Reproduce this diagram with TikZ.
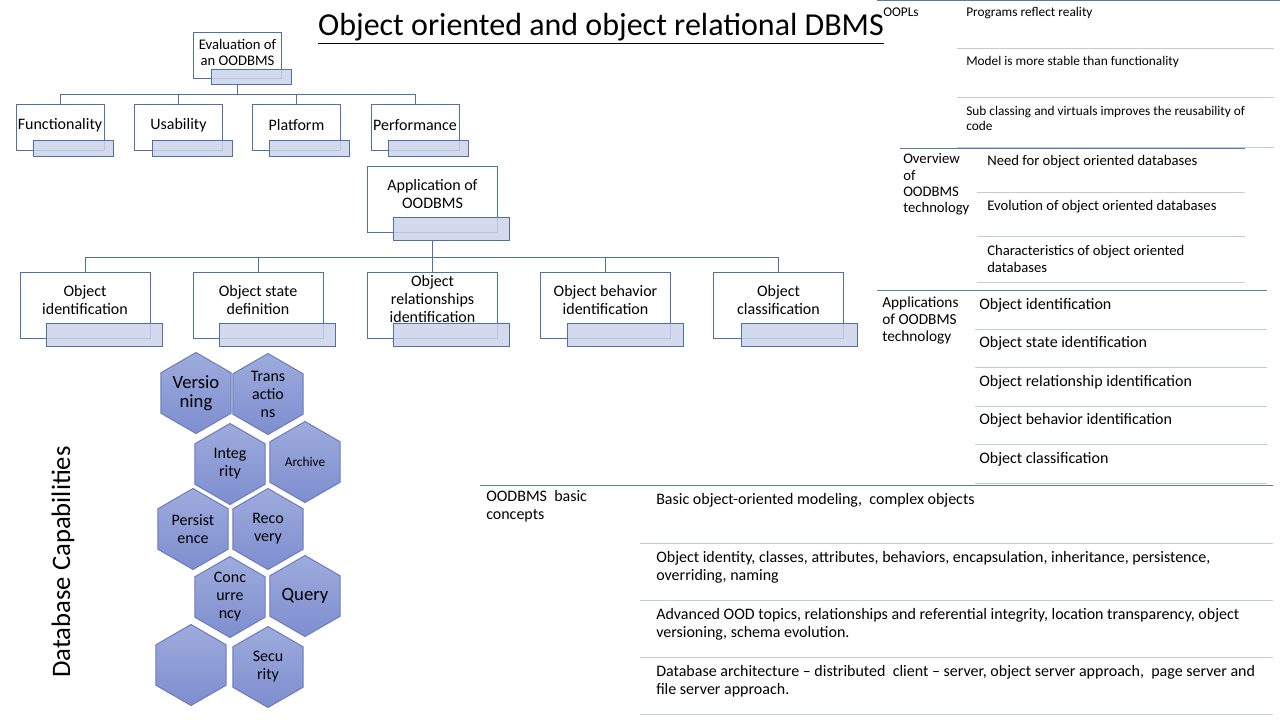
\documentclass[tikz,border=0pt]{standalone}
\usepackage{fontspec}
\setmainfont{Carlito}
\usepackage{tikz}
\usetikzlibrary{shapes.geometric}
\usetikzlibrary{calc}

\definecolor{boxblue}{HTML}{4F6FA9}
\definecolor{barfill}{HTML}{CDD4EA}
\definecolor{tabdark}{HTML}{5B7BA7}
\definecolor{tablight}{HTML}{C3CCDB}
\definecolor{hextop}{HTML}{9EABDD}
\definecolor{hexbot}{HTML}{7E8ECF}
\definecolor{hexedge}{HTML}{6C7CBC}

\begin{document}
\begin{tikzpicture}[x=0.75pt,y=-0.75pt]
    \tikzstyle{every node}=[font=\fontsize{12}{13.5}\selectfont]
    \tikzstyle{outer}=[draw=boxblue, fill=white, line width=0.75pt, minimum width=66pt, minimum height=34.5pt, inner sep=0pt]
    \tikzstyle{bar}=[draw=boxblue, fill=barfill, fill opacity=0.85, line width=0.75pt, minimum width=60pt, minimum height=11.5pt, inner sep=0pt]
    \tikzstyle{bigouter}=[outer, minimum width=97.5pt, minimum height=49.5pt]
    \tikzstyle{bigbar}=[bar, minimum width=87pt, minimum height=17.25pt]
    \tikzstyle{boxtxt}=[align=center, inner sep=0pt]
    \tikzstyle{conn}=[draw=boxblue, line width=0.75pt]
    \tikzstyle{hexa}=[regular polygon, regular polygon sides=6, shape border rotate=30, minimum size=60.75pt, inner sep=0pt, draw=hexedge, top color=hextop, bottom color=hexbot, line width=0.75pt]
    \tikzstyle{hextxt}=[align=center, inner sep=0pt]
    \tikzstyle{rowdark}=[draw=tabdark, line width=0.75pt]
    \tikzstyle{rowlight}=[draw=tablight, line width=0.75pt]
    \tikzstyle{tabtxt}=[anchor=west, align=left, inner sep=0pt]

    \fill[white] (0,0) rectangle (1280,720);
    \useasboundingbox (0,0) rectangle (1280,720);

    % title
    \node[anchor=base, font=\fontsize{24}{28}\selectfont] (title) at (601,36) {\underline{Object oriented and object relational DBMS}};

    % evaluation tree
    \node[outer] (eval) at (237.5,56) {};
    \node[bar] (evalbar) at (251,77) {};
    \node[boxtxt, font=\fontsize{11}{11.5}\selectfont] (evaltxt) at (237.5,52.5) {Evaluation of\\an OODBMS};

    \node[outer] (func) at (60,128) {};
    \node[bar] (funcbar) at (73,148.5) {};
    \node[boxtxt] (functxt) at (60,125) {Functionality};
    \node[outer] (usab) at (178.5,128) {};
    \node[bar] (usabbar) at (192,148.5) {};
    \node[boxtxt] (usabtxt) at (178.5,125) {Usability};
    \node[outer] (plat) at (296.5,128) {};
    \node[bar] (platbar) at (309.5,148.5) {};
    \node[boxtxt] (plattxt) at (296.5,125) {Platform};
    \node[outer] (perf) at (415,128) {};
    \node[bar] (perfbar) at (428,148.5) {};
    \node[boxtxt] (perftxt) at (415,125) {Performance};

    \coordinate (evalbus) at (237.5,95);
    \draw[conn] (eval.south |- evalbar.south) -- (evalbus);
    \draw[conn] (func.north) |- (evalbus);
    \draw[conn] (usab.north) |- (evalbus);
    \draw[conn] (plat.north) |- (evalbus);
    \draw[conn] (perf.north) |- (evalbus);

    % application tree
    \node[bigouter] (app) at (432.5,200) {};
    \node[bigbar] (appbar) at (451,229) {};
    \node[boxtxt] (apptxt) at (432.5,194) {Application of\\OODBMS};

    \node[bigouter] (oid) at (85,305) {};
    \node[bigbar] (oidbar) at (104,334.5) {};
    \node[boxtxt] (oidtxt) at (85,300) {Object\\identification};
    \node[bigouter] (ostate) at (258,305) {};
    \node[bigbar] (ostatebar) at (277,334.5) {};
    \node[boxtxt] (ostatetxt) at (258,300) {Object state\\definition};
    \node[bigouter] (orel) at (432.5,305) {};
    \node[bigbar] (orelbar) at (451,334.5) {};
    \node[boxtxt] (oreltxt) at (432.5,299) {Object\\relationships\\identification};
    \node[bigouter] (obeh) at (605.5,305) {};
    \node[bigbar] (obehbar) at (625,334.5) {};
    \node[boxtxt] (obehtxt) at (605.5,300) {Object behavior\\identification};
    \node[bigouter] (oclass) at (778.5,305) {};
    \node[bigbar] (oclassbar) at (799,334.5) {};
    \node[boxtxt] (oclasstxt) at (778.5,300) {Object\\classification};

    \coordinate (appbus) at (432.5,257);
    \draw[conn] (app.south |- appbar.south) -- (appbus);
    \draw[conn] (oid.north) |- (appbus);
    \draw[conn] (ostate.north) |- (appbus);
    \draw[conn] (orel.north) -- (appbus);
    \draw[conn] (obeh.north) |- (appbus);
    \draw[conn] (oclass.north) |- (appbus);

    % capabilities
    \node[rotate=90, font=\fontsize{20}{24}\selectfont] (captitle) at (63,562) {Database Capabilities};

    \node[hexa] (vers) at (196,393) {};
    \node[hextxt, font=\fontsize{14}{14}\selectfont] (verstxt) at (vers) {Versio\\ning};
    \node[hexa] (trans) at (268,394) {};
    \node[hextxt] (transtxt) at (trans) {Trans\\actio\\ns};
    \node[hexa] (integ) at (230,464) {};
    \node[hextxt] (integtxt) at (integ) {Integ\\rity};
    \node[hexa] (arch) at (305,462) {};
    \node[hextxt, font=\fontsize{10}{12}\selectfont] (archtxt) at (arch) {Archive};
    \node[hexa] (pers) at (193,529) {};
    \node[hextxt] (perstxt) at (pers) {Persist\\ence};
    \node[hexa] (reco) at (268,529) {};
    \node[hextxt] (recotxt) at (reco) {Reco\\very};
    \node[hexa] (conc) at (230,597) {};
    \node[hextxt] (conctxt) at (conc) {Conc\\urre\\ncy};
    \node[hexa] (query) at (305,596) {};
    \node[hextxt, font=\fontsize{14}{14}\selectfont] (querytxt) at (query) {Query};
    \node[hexa] (blank) at (191,665) {};
    \node[hexa] (secu) at (268,667) {};
    \node[hextxt] (secutxt) at (secu) {Secu\\rity};

    % OOPLs table
    \draw[rowdark] (877,1) -- (1280,1);
    \draw[rowlight] (957,49) -- (1274,49);
    \draw[rowlight] (957,98) -- (1274,98);
    \draw[rowlight] (957,148) -- (1274,148);
    \node[tabtxt, font=\fontsize{10}{12}\selectfont] (oopl) at (883,12) {OOPLs};
    \node[tabtxt, font=\fontsize{10}{11.5}\selectfont] (oopla) at (966,13) {Programs reflect reality};
    \node[tabtxt, font=\fontsize{10}{11.5}\selectfont] (ooplb) at (966,62) {Model is more stable than functionality};
    \node[tabtxt, font=\fontsize{10}{11.5}\selectfont] (ooplc) at (966,118.5) {Sub classing and virtuals improves the reusability of\\code};

    % overview table
    \draw[rowdark] (900,149) -- (1245,149);
    \draw[rowlight] (977,193) -- (1245,193);
    \draw[rowlight] (977,237) -- (1245,237);
    \draw[rowlight] (977,282) -- (1245,282);
    \node[tabtxt, font=\fontsize{11}{12.2}\selectfont] (over) at (903,184.5) {Overview\\of\\OODBMS\\technology};
    \node[tabtxt, font=\fontsize{11}{12.2}\selectfont] (overa) at (987,162) {Need for object oriented databases};
    \node[tabtxt, font=\fontsize{11}{12.2}\selectfont] (overb) at (987,207) {Evolution of object oriented databases};
    \node[tabtxt, font=\fontsize{11}{12.2}\selectfont] (overc) at (987,259) {Characteristics of object oriented\\databases};

    % applications table
    \draw[rowdark] (877,290) -- (1267,290);
    \draw[rowlight] (975,329) -- (1267,329);
    \draw[rowlight] (975,367) -- (1267,367);
    \draw[rowlight] (975,406) -- (1267,406);
    \draw[rowlight] (975,444) -- (1267,444);
    \draw[rowlight] (975,483) -- (1267,483);
    \node[tabtxt, font=\fontsize{11.5}{13}\selectfont] (appl) at (882,320.5) {Applications\\of OODBMS\\technology};
    \node[tabtxt] (appla) at (979,305) {Object identification};
    \node[tabtxt] (applb) at (979,343) {Object state identification};
    \node[tabtxt] (applc) at (979,382) {Object relationship identification};
    \node[tabtxt] (appld) at (979,420) {Object behavior identification};
    \node[tabtxt] (apple) at (979,459) {Object classification};

    % basic concepts table
    \draw[rowdark] (480,485) -- (1273,485);
    \draw[rowlight] (640,543) -- (1273,543);
    \draw[rowlight] (640,600) -- (1273,600);
    \draw[rowlight] (640,657) -- (1273,657);
    \draw[rowlight] (640,714) -- (1273,714);
    \node[tabtxt, font=\fontsize{12}{13.5}\selectfont] (basic) at (486,506) {OODBMS\ \ basic\\concepts};
    \node[tabtxt, font=\fontsize{12}{13.5}\selectfont] (basica) at (656,500) {Basic object-oriented modeling,\ \ complex objects};
    \node[tabtxt, font=\fontsize{12}{13.5}\selectfont] (basicb) at (656,567) {Object identity, classes, attributes, behaviors, encapsulation, inheritance, persistence,\\overriding, naming};
    \node[tabtxt, font=\fontsize{12}{13.5}\selectfont] (basicc) at (656,624) {Advanced OOD topics, relationships and referential integrity, location transparency, object\\versioning, schema evolution.};
    \node[tabtxt, font=\fontsize{12}{13.5}\selectfont] (basicd) at (656,681) {Database architecture -- distributed\ \ client -- server, object server approach,\ \ page server and\\file server approach.};
\end{tikzpicture}
\end{document}
